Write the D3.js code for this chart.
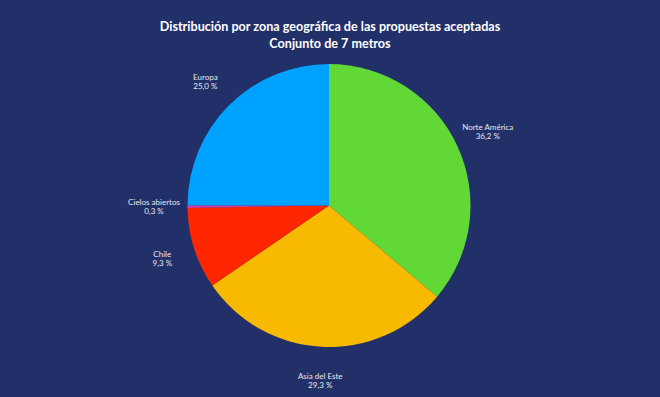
<!DOCTYPE html>
<html>
<head>
<meta charset="utf-8">
<style>
  html, body { margin: 0; padding: 0; background: #22306a; }
  svg { display: block; }
</style>
</head>
<body>
<svg id="chart"></svg>
<script src="https://d3js.org/d3.v7.min.js"></script>
<script>
  // data
  const zonas = ["Norte América", "Asia del Este", "Chile", "Cielos abiertos", "Europa"];
  const porcentajes = [36.2, 29.3, 9.3, 0.3, 25.0];
  const colores = ["#61d836", "#f8ba00", "#ff2600", "#d23fa0", "#00a2ff"];
  const titulo = ["Distribución por zona geográfica de las propuestas aceptadas", "Conjunto de 7 metros"];

  const width = 660;
  const height = 397;
  const cx = 329, cy = 205.5;
  const radius = 141.5;
  const labelRadius = 175;

  const svg = d3.select('#chart')
      .attr('width', width).attr('height', height);

  svg.append('rect')
      .attr('width', width).attr('height', height)
      .attr('fill', '#22306a');

  const data = zonas.map((z, i) => ({ zona: z, valor: porcentajes[i], color: colores[i] }));

  const pie = d3.pie().value(d => d.valor).sort(null);
  const arc = d3.arc().innerRadius(0).outerRadius(radius);
  const arcs = pie(data);

  const g = svg.append('g').attr('transform', `translate(${cx},${cy})`);

  g.selectAll('path')
      .data(arcs)
      .enter().append('path')
      .attr('d', arc)
      .attr('fill', d => d.data.color);

  // labels: two lines each, name then percentage
  const fmt = v => v.toFixed(1).replace('.', ',') + ' %';
  const labels = g.selectAll('g.lbl')
      .data(arcs)
      .enter().append('g')
      .attr('class', 'lbl')
      .attr('transform', d => {
          const a = (d.startAngle + d.endAngle) / 2;
          return `translate(${Math.sin(a) * labelRadius},${-Math.cos(a) * labelRadius})`;
      });
  [d => d.data.zona, d => fmt(d.data.valor)].forEach((txt, i) => {
      labels.append('text')
          .attr('text-anchor', 'middle')
          .attr('font-family', 'Lato, "Open Sans", sans-serif')
          .attr('font-size', 8)
          .attr('fill', '#e6e8f0')
          .attr('y', -1.5 + i * 8.8)
          .text(txt);
  });

  // title
  const t = svg.append('text')
      .attr('text-anchor', 'middle')
      .attr('font-family', 'Lato, "Open Sans", sans-serif')
      .attr('font-weight', 'bold')
      .attr('font-size', 12.6)
      .attr('fill', '#ffffff');
  titulo.forEach((line, i) => {
      t.append('tspan').attr('x', width / 2).attr('y', 31 + i * 17).text(line);
  });
</script>
</body>
</html>
